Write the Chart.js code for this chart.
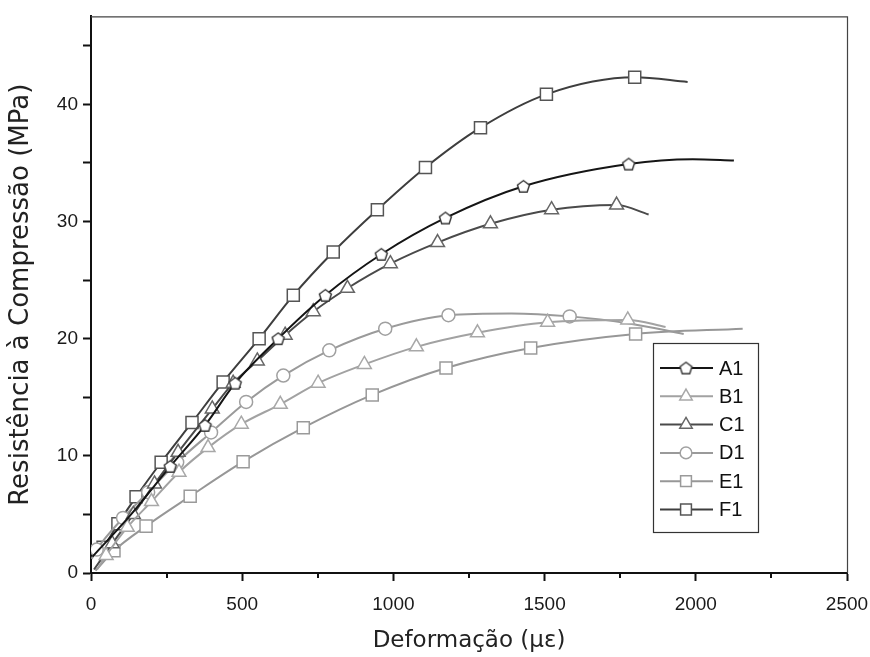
<!DOCTYPE html>
<html>
<head>
<meta charset="utf-8">
<script src="https://cdn.jsdelivr.net/npm/chart.js@4.4.0/dist/chart.umd.min.js"></script>
<style>
  html, body { margin: 0; padding: 0; background: #fff; }
  #wrap { width: 870px; height: 657px; }
</style>
</head>
<body>
<div id="wrap"><canvas id="c" width="870" height="657"></canvas></div>
<script>
// ---- data (strain in με, stress in MPa) ----
const seriesNames = ['A1', 'B1', 'C1', 'D1', 'E1', 'F1'];

const strainA1 = [5, 129, 262, 377, 477, 619, 775, 960, 1172, 1430, 1778, 1990, 2126];
const stressA1 = [1.4, 4.9, 9.1, 12.6, 16.2, 20.0, 23.7, 27.2, 30.3, 33.0, 34.9, 35.3, 35.2];
const markA1   = [0, 0, 1, 1, 1, 1, 1, 1, 1, 1, 1, 0, 0];

const strainB1 = [20, 50, 120, 200, 291, 387, 497, 626, 751, 904, 1076, 1278, 1510, 1775, 1900];
const stressB1 = [0.3, 1.5, 3.9, 6.1, 8.6, 10.7, 12.7, 14.4, 16.2, 17.8, 19.3, 20.5, 21.4, 21.6, 21.0];
const markB1   = [0, 1, 1, 1, 1, 1, 1, 1, 1, 1, 1, 1, 1, 1, 0];

const strainC1 = [10, 70, 140, 210, 288, 401, 470, 550, 642, 735, 848, 990, 1146, 1321, 1523, 1738, 1844];
const stressC1 = [0.3, 2.5, 5.0, 7.6, 10.3, 14.0, 16.2, 18.1, 20.3, 22.3, 24.3, 26.4, 28.2, 29.8, 31.0, 31.4, 30.6];
const markC1   = [0, 1, 1, 1, 1, 1, 1, 1, 1, 1, 1, 1, 1, 1, 1, 1, 0];

const strainD1 = [2, 19, 106, 189, 285, 397, 513, 636, 788, 973, 1182, 1390, 1583, 1780, 1960];
const stressD1 = [1.2, 2.0, 4.7, 6.9, 9.45, 12.0, 14.6, 16.85, 19.0, 20.85, 22.0, 22.15, 21.9, 21.3, 20.4];
const markD1   = [0, 1, 1, 1, 1, 1, 1, 1, 1, 1, 1, 0, 1, 0, 0];

const strainE1 = [15, 76, 182, 328, 503, 702, 930, 1174, 1454, 1801, 2155];
const stressE1 = [0.2, 1.9, 4.0, 6.55, 9.5, 12.4, 15.2, 17.5, 19.2, 20.4, 20.85];
const markE1   = [0, 1, 1, 1, 1, 1, 1, 1, 1, 1, 0];

const strainF1 = [5, 40, 89, 149, 232, 334, 437, 556, 669, 801, 947, 1106, 1288, 1506, 1798, 1973];
const stressF1 = [1.6, 2.2, 4.2, 6.5, 9.45, 12.85, 16.3, 20.0, 23.7, 27.4, 31.0, 34.6, 38.0, 40.85, 42.3, 41.9];
const markF1   = [0, 1, 1, 1, 1, 1, 1, 1, 1, 1, 1, 1, 1, 1, 1, 0];

const xTickLabels = [0, 500, 1000, 1500, 2000, 2500];
const xMinorTicks = [250, 750, 1250, 1750, 2250];
const yTickLabels = [0, 10, 20, 30, 40];

// ---- pentagon marker ----
function makePentagon(size, stroke) {
  const c = document.createElement('canvas');
  c.width = size; c.height = size;
  const g = c.getContext('2d');
  const r = size / 2 - 1.2, cx = size / 2, cy = size / 2 + 0.6;
  g.beginPath();
  for (let k = 0; k < 5; k++) {
    const a = -Math.PI / 2 + k * 2 * Math.PI / 5;
    const px = cx + r * Math.cos(a), py = cy + r * Math.sin(a);
    if (k === 0) g.moveTo(px, py); else g.lineTo(px, py);
  }
  g.closePath();
  g.fillStyle = '#fff'; g.fill();
  g.lineWidth = 1.4; g.strokeStyle = stroke; g.stroke();
  return c;
}
const pentagon = makePentagon(15, '#333');

const styles = {
  A1: { line: '#151515', mark: '#333333', style: pentagon, r: 7 },
  B1: { line: '#a2a2a2', mark: '#a8a8a8', style: 'triangle', r: 8 },
  C1: { line: '#4a4a4a', mark: '#666666', style: 'triangle', r: 8 },
  D1: { line: '#9a9a9a', mark: '#a0a0a0', style: 'circle', r: 6.5 },
  E1: { line: '#979797', mark: '#9a9a9a', style: 'rect', r: 8.5 },
  F1: { line: '#3e3e3e', mark: '#555555', style: 'rect', r: 8.5 }
};

const raw = {
  A1: [strainA1, stressA1, markA1],
  B1: [strainB1, stressB1, markB1],
  C1: [strainC1, stressC1, markC1],
  D1: [strainD1, stressD1, markD1],
  E1: [strainE1, stressE1, markE1],
  F1: [strainF1, stressF1, markF1]
};

const datasets = seriesNames.map(name => {
  const [xs, ys, ms] = raw[name];
  const s = styles[name];
  return {
    label: name,
    data: xs.map((x, i) => ({ x: x, y: ys[i] })),
    borderColor: s.line,
    borderWidth: 2,
    pointStyle: s.style,
    pointRadius: ms.map(m => m ? s.r : 0),
    pointBackgroundColor: '#ffffff',
    pointBorderColor: s.mark,
    pointBorderWidth: 1.5,
    cubicInterpolationMode: 'monotone',
    fill: false
  };
});

// ---- plugins ----
const framePlugin = {
  id: 'frame',
  afterDatasetsDraw(chart) {
    const { ctx, chartArea: a } = chart;
    ctx.save();
    ctx.strokeStyle = '#444';
    ctx.lineWidth = 1.2;
    ctx.beginPath();
    ctx.moveTo(a.left, a.top + 0.5);
    ctx.lineTo(a.right + 0.5, a.top + 0.5);
    ctx.lineTo(a.right + 0.5, a.bottom);
    ctx.stroke();
    // shorter minor ticks on the x axis
    const xs = chart.scales.x;
    ctx.strokeStyle = '#111';
    ctx.lineWidth = 2;
    ctx.beginPath();
    xMinorTicks.forEach(v => {
      const px = Math.round(xs.getPixelForValue(v));
      ctx.moveTo(px, a.bottom);
      ctx.lineTo(px, a.bottom + 5);
    });
    ctx.stroke();
    ctx.restore();
  }
};

const legendPlugin = {
  id: 'boxLegend',
  afterDraw(chart) {
    const { ctx } = chart;
    const x0 = 653, y0 = 343, w = 105, h = 189;
    ctx.save();
    ctx.fillStyle = '#fff';
    ctx.fillRect(x0, y0, w, h);
    ctx.strokeStyle = '#333';
    ctx.lineWidth = 1.2;
    ctx.strokeRect(x0 + 0.5, y0 + 0.5, w, h);
    chart.data.datasets.forEach((ds, i) => {
      const y = 368 + i * 28.3;
      ctx.strokeStyle = ds.borderColor;
      ctx.lineWidth = 2;
      ctx.beginPath();
      ctx.moveTo(660, y); ctx.lineTo(713, y);
      ctx.stroke();
      const r = Math.max.apply(null, ds.pointRadius);
      ctx.fillStyle = '#fff';
      ctx.strokeStyle = ds.pointBorderColor;
      ctx.lineWidth = 1.5;
      Chart.helpers.drawPoint(ctx, { pointStyle: ds.pointStyle, radius: r * 0.9, rotation: 0, borderWidth: 1.5 }, 686, y);
      ctx.fillStyle = '#111';
      ctx.font = '20px "Liberation Sans", Arial, sans-serif';
      ctx.textBaseline = 'middle';
      ctx.textAlign = 'left';
      ctx.fillText(ds.label, 719, y + 1);
    });
    ctx.restore();
  }
};

new Chart(document.getElementById('c'), {
  type: 'line',
  data: { datasets: datasets },
  options: {
    responsive: false,
    devicePixelRatio: 1,
    animation: false,
    events: [],
    layout: { padding: { left: 0, top: 14, right: 23, bottom: 0 } },
    plugins: { legend: { display: false }, tooltip: { enabled: false } },
    scales: {
      x: {
        type: 'linear',
        min: 0, max: 2500,
        afterFit: s => { s.height = 84; s.paddingRight = 0; s.paddingLeft = 0; },
        ticks: {
          stepSize: 250,
          autoSkip: false,
          maxRotation: 0,
          padding: 12,
          color: '#1a1a1a',
          font: { family: '"Liberation Sans", Arial, sans-serif', size: 19 },
          callback: v => (xTickLabels.includes(v) ? String(v) : '')
        },
        grid: {
          display: true, drawOnChartArea: false, drawTicks: true, tickLength: 8, tickWidth: 2,
          tickColor: c => (c.tick && xTickLabels.includes(c.tick.value) ? '#111' : 'rgba(0,0,0,0)')
        },
        border: { display: true, color: '#111', width: 2 },
        title: {
          display: true,
          text: 'Deformação (με)',
          color: '#222',
          font: { family: '"DejaVu Sans", Verdana, sans-serif', size: 23 },
          padding: { top: 0, bottom: 2 }
        }
      },
      y: {
        type: 'linear',
        min: 0, max: 47.5,
        afterFit: s => { s.width = 91; },
        ticks: {
          stepSize: 5,
          includeBounds: false,
          autoSkip: false,
          padding: 5,
          color: '#1a1a1a',
          font: { family: '"Liberation Sans", Arial, sans-serif', size: 19 },
          callback: v => (yTickLabels.includes(v) ? String(v) : '')
        },
        grid: { display: true, drawOnChartArea: false, drawTicks: true, tickLength: 8, tickColor: '#111', tickWidth: 2 },
        border: { display: true, color: '#111', width: 2 },
        title: {
          display: true,
          text: 'Resistência à Compressão (MPa)',
          color: '#222',
          font: { family: '"DejaVu Sans", Verdana, sans-serif', size: 26 },
          padding: { top: 6, bottom: 0 }
        }
      }
    }
  },
  plugins: [framePlugin, legendPlugin]
});
</script>
</body>
</html>
